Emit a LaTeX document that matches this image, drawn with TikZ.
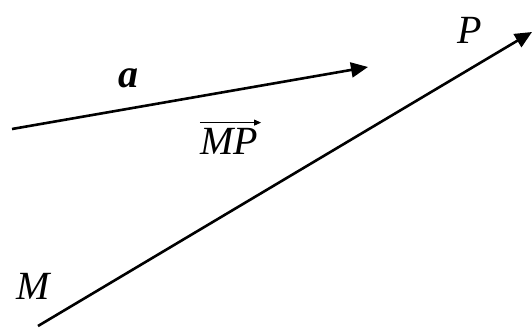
\documentclass[tikz,border=0pt]{standalone}
\usepackage{fontspec}
\setmainfont{Liberation Serif}
\usetikzlibrary{arrows.meta}
\begin{document}
\begin{tikzpicture}[x=1pt,y=-1pt,
  vec/.style={line width=2.6pt,-{Triangle[length=17pt,width=15pt]}},
  lbl/.style={inner sep=0pt,font=\fontsize{40}{44}\selectfont\itshape}]
\useasboundingbox (0,0) rectangle (532,331);
\coordinate (a0) at (12,129);
\coordinate (a1) at (368,67);
\coordinate (m0) at (38,326);
\coordinate (p1) at (532,32);
\draw[vec] (a0) -- (a1);
\draw[vec] (m0) -- (p1);
\node[lbl] (P) at (470,30) {P};
\node[lbl] (M) at (33,286) {M};
\node[lbl,font=\fontsize{40}{44}\selectfont\bfseries\itshape] (a) at (128,78) {a};
\node[lbl,anchor=base] (MP) at (229,155) {MP};
\draw[line width=0.9pt,-{Triangle[length=7pt,width=6pt]}] ([xshift=0pt,yshift=6pt]MP.north west) -- ([xshift=3pt,yshift=6pt]MP.north east);
\end{tikzpicture}
\end{document}
